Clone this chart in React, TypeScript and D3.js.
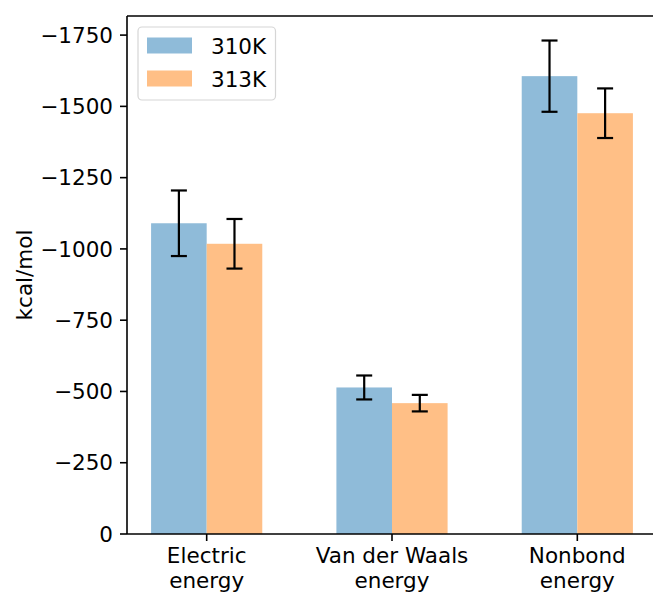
import React from "react";
import { scaleLinear } from "d3";

// data
const categories = [["Electric", "energy"], ["Van der Waals", "energy"], ["Nonbond", "energy"]];
const series310 = [-1090, -514, -1606];
const err310 = [115, 42, 125];
const series313 = [-1018, -459, -1476];
const err313 = [87, 29, 87];
const yTicks = [0, -250, -500, -750, -1000, -1250, -1500, -1750];
const legendLabels = ["310K", "313K"];

const W = 653;
const H = 592;
const FONT = "DejaVu Sans, sans-serif";
const FS = 21.5;
const blue = "#8fbbd9";
const orange = "#ffbf86";

export default function App() {
  const x = scaleLinear().domain([-0.43, 2.43]).range([127, 657]);
  const y = scaleLinear().domain([0, -1817]).range([534, 16]);
  const bw = x(0.3) - x(0);

  const series = [
    { vals: series310, errs: err310, color: blue, off: -0.15 },
    { vals: series313, errs: err313, color: orange, off: 0.15 },
  ];

  return (
    <svg
      width={W}
      height={H}
      style={{ position: "absolute", left: 0, top: 0, background: "#fff" }}
      fontFamily={FONT}
    >
      {/* bars */}
      {series.map((s, si) =>
        s.vals.map((v, i) => (
          <rect
            key={`b${si}-${i}`}
            x={x(i + s.off) - bw / 2}
            y={y(v)}
            width={bw}
            height={y(0) - y(v)}
            fill={s.color}
          />
        ))
      )}

      {/* error bars */}
      {series.map((s, si) =>
        s.vals.map((v, i) => {
          const cx = x(i + s.off);
          const y1 = y(v - s.errs[i]);
          const y2 = y(v + s.errs[i]);
          return (
            <g key={`e${si}-${i}`} stroke="#000" strokeWidth={2.2}>
              <line x1={cx} x2={cx} y1={y1} y2={y2} />
              <line x1={cx - 8} x2={cx + 8} y1={y1} y2={y1} />
              <line x1={cx - 8} x2={cx + 8} y1={y2} y2={y2} />
            </g>
          );
        })
      )}

      {/* spines */}
      <g stroke="#000" strokeWidth={1.6} fill="none">
        <line x1={127} x2={127} y1={16} y2={534} />
        <line x1={127} x2={W} y1={16} y2={16} />
        <line x1={127} x2={W} y1={534} y2={534} />
      </g>

      {/* y axis */}
      {yTicks.map((t) => (
        <g key={t}>
          <line x1={120} x2={127} y1={y(t)} y2={y(t)} stroke="#000" strokeWidth={1.6} />
          <text
            x={113}
            y={y(t)}
            dy="0.36em"
            textAnchor="end"
            fontSize={FS}
            fill="#000"
          >
            {t === 0 ? "0" : "\u2212" + Math.abs(t)}
          </text>
        </g>
      ))}
      <text
        transform={`translate(32,${(16 + 534) / 2}) rotate(-90)`}
        textAnchor="middle"
        fontSize={FS}
        fill="#000"
      >
        kcal/mol
      </text>

      {/* x axis */}
      {categories.map((c, i) => (
        <g key={i}>
          <line x1={x(i)} x2={x(i)} y1={534} y2={541} stroke="#000" strokeWidth={1.6} />
          {c.map((ln, j) => (
            <text
              key={j}
              x={x(i)}
              y={563 + j * 25}
              textAnchor="middle"
              fontSize={FS}
              fill="#000"
            >
              {ln}
            </text>
          ))}
        </g>
      ))}

      {/* legend */}
      <rect
        x={138}
        y={27}
        width={137.5}
        height={73}
        rx={4}
        fill="#fff"
        fillOpacity={0.8}
        stroke="#d6d6d6"
        strokeWidth={1.2}
      />
      {legendLabels.map((l, i) => (
        <g key={l}>
          <rect x={147} y={37.5 + i * 33} width={45} height={16} fill={series[i].color} />
          <text x={211} y={54.3 + i * 32.5} fontSize={FS} fill="#000">
            {l}
          </text>
        </g>
      ))}
    </svg>
  );
}
